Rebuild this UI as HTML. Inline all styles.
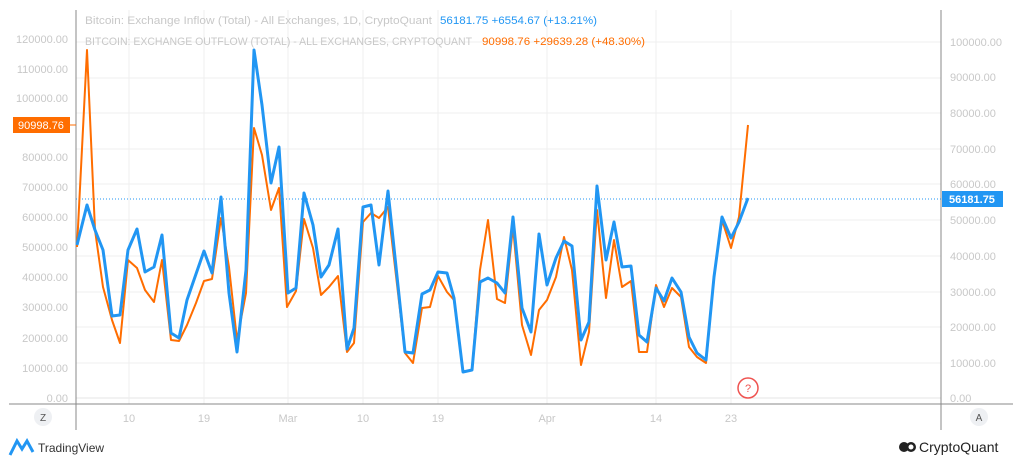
<!DOCTYPE html>
<html><head><meta charset="utf-8"><style>
body{margin:0;width:1024px;height:465px;background:#fff;overflow:hidden;font-family:"Liberation Sans",sans-serif}
</style></head><body>
<svg width="1024" height="465" xmlns="http://www.w3.org/2000/svg" font-family="Liberation Sans, sans-serif">
<g stroke="#efefef" stroke-width="1">
<line x1="76" x2="941" y1="42" y2="42"/><line x1="76" x2="941" y1="78" y2="78"/><line x1="76" x2="941" y1="113" y2="113"/><line x1="76" x2="941" y1="149" y2="149"/><line x1="76" x2="941" y1="184" y2="184"/><line x1="76" x2="941" y1="220" y2="220"/><line x1="76" x2="941" y1="256" y2="256"/><line x1="76" x2="941" y1="292" y2="292"/><line x1="76" x2="941" y1="327" y2="327"/><line x1="76" x2="941" y1="363" y2="363"/><line x1="76" x2="941" y1="398" y2="398" stroke="#e4e4e4"/>
<line x1="129" x2="129" y1="10" y2="404"/><line x1="204" x2="204" y1="10" y2="404"/><line x1="288" x2="288" y1="10" y2="404"/><line x1="363" x2="363" y1="10" y2="404"/><line x1="438" x2="438" y1="10" y2="404"/><line x1="547" x2="547" y1="10" y2="404"/><line x1="656" x2="656" y1="10" y2="404"/><line x1="731" x2="731" y1="10" y2="404"/>
</g>
<g stroke="#888" stroke-width="1">
<line x1="76" x2="76" y1="10" y2="430"/><line x1="941" x2="941" y1="10" y2="430"/><line x1="9" x2="1013" y1="404" y2="404"/>
</g>
<g font-size="11" fill="#c8c8c8" text-anchor="end">
<text x="68" y="43">120000.00</text><text x="68" y="73">110000.00</text><text x="68" y="102">100000.00</text><text x="68" y="161">80000.00</text><text x="68" y="191">70000.00</text><text x="68" y="221">60000.00</text><text x="68" y="251">50000.00</text><text x="68" y="281">40000.00</text><text x="68" y="311">30000.00</text><text x="68" y="342">20000.00</text><text x="68" y="372">10000.00</text><text x="68" y="402">0.00</text>
</g>
<g font-size="11" fill="#c8c8c8">
<text x="950" y="46">100000.00</text><text x="950" y="81">90000.00</text><text x="950" y="117">80000.00</text><text x="950" y="153">70000.00</text><text x="950" y="188">60000.00</text><text x="950" y="224">50000.00</text><text x="950" y="260">40000.00</text><text x="950" y="296">30000.00</text><text x="950" y="331">20000.00</text><text x="950" y="367">10000.00</text><text x="950" y="402">0.00</text>
</g>
<g font-size="11" fill="#c8c8c8" text-anchor="middle">
<text x="129" y="422">10</text><text x="204" y="422">19</text><text x="288" y="422">Mar</text><text x="363" y="422">10</text><text x="438" y="422">19</text><text x="547" y="422">Apr</text><text x="656" y="422">14</text><text x="731" y="422">23</text>
</g>
<line x1="76" x2="941" y1="199" y2="199" stroke="#2196f3" stroke-dasharray="1,2" stroke-width="1"/>
<polyline fill="none" stroke="#ff6d00" stroke-width="2" stroke-linejoin="round" points="77,247 87,50 95,230 103,287 112,320 120,343 128,260 137,268 145,290 154,302 162,260 171,340 179,341 187,325 196,303 204,281 212,279 221,218 229,267 237,340 246,293 254,128 262,155 271,210 279,188 287,307 296,291 304,219 313,248 321,295 329,287 338,276 347,352 354,343 363,222 371,213 379,218 388,207 405,353 413,363 422,308 430,307 438,276 447,292 454,300 463,372 472,370 480,270 488,220 497,299 505,303 513,227 522,325 531,355 539,310 547,300 556,277 564,237 572,270 581,365 589,332 597,210 606,298 614,240 622,287 631,281 639,352 647,352 656,285 664,307 672,288 681,297 689,347 697,357 706,363 714,277 722,220 731,248 739,217 748,125"/>
<polyline fill="none" stroke="#2196f3" stroke-width="3" stroke-linejoin="round" points="77,245 87,205 95,230 103,250 112,316 120,315 128,250 137,229 145,272 154,267 162,235 171,333 179,338 187,300 196,274 204,251 212,273 221,197 229,293 237,352 246,270 254,50 262,105 271,183 279,147 288,293 296,288 304,193 313,225 321,277 329,265 338,229 347,349 354,328 363,207 371,205 379,265 388,191 405,352 413,353 422,294 430,290 438,272 447,273 454,298 463,372 472,370 480,282 488,278 497,283 505,293 513,217 522,308 531,332 539,234 547,285 556,258 564,241 572,246 581,340 589,322 597,186 606,260 614,222 622,267 631,266 639,335 647,342 656,288 664,301 672,278 681,292 689,337 697,353 706,360 714,277 722,217 731,238 739,222 748,198"/>
<text x="85" y="24" font-size="11" fill="#c8c8c8" textLength="347" lengthAdjust="spacingAndGlyphs">Bitcoin: Exchange Inflow (Total) - All Exchanges, 1D, CryptoQuant</text>
<text x="440" y="24" font-size="11" fill="#2196f3" textLength="157" lengthAdjust="spacingAndGlyphs">56181.75  +6554.67 (+13.21%)</text>
<text x="85" y="45" font-size="11" fill="#c8c8c8" textLength="387" lengthAdjust="spacingAndGlyphs">BITCOIN: EXCHANGE OUTFLOW (TOTAL) - ALL EXCHANGES, CRYPTOQUANT</text>
<text x="482" y="45" font-size="11" fill="#ff6d00" textLength="163" lengthAdjust="spacingAndGlyphs">90998.76  +29639.28 (+48.30%)</text>
<rect x="13" y="117" width="57" height="16" fill="#ff6d00"/>
<line x1="70" x2="76" y1="125" y2="125" stroke="#ff6d00"/>
<text x="41" y="129" font-size="11" fill="#fff" text-anchor="middle">90998.76</text>
<rect x="942" y="191" width="61" height="16" fill="#2196f3"/>
<text x="972" y="203" font-size="11" fill="#fff" text-anchor="middle" font-weight="bold">56181.75</text>
<circle cx="748" cy="388" r="10" fill="none" stroke="#ef5350" stroke-width="1.5"/>
<text x="748" y="392" font-size="11" fill="#ef5350" text-anchor="middle">?</text>
<circle cx="43" cy="417" r="9" fill="#eef0f3"/><text x="43" y="421" font-size="10" fill="#555" text-anchor="middle">Z</text>
<circle cx="979" cy="417" r="9" fill="#eef0f3"/><text x="979" y="421" font-size="10" fill="#555" text-anchor="middle">A</text>
<path d="M10 455 L17 441 L22 449 L27 441 L33 452" fill="none" stroke="#2196f3" stroke-width="3"/>
<text x="38" y="452" font-size="12" fill="#333">TradingView</text>
<circle cx="904" cy="447" r="5" fill="#222"/><circle cx="911" cy="447" r="5" fill="#222"/><circle cx="911" cy="447" r="2.5" fill="#fff"/>
<text x="919" y="452" font-size="14" fill="#222">CryptoQuant</text>
</svg>
</body></html>
